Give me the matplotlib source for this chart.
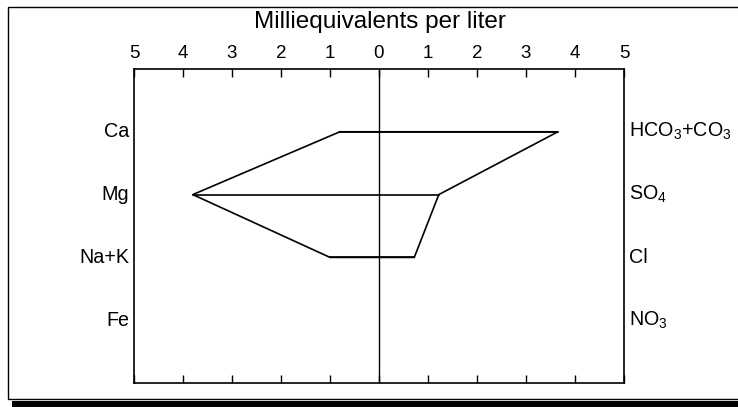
import numpy as np
import matplotlib
matplotlib.use("Agg")
import matplotlib.pyplot as plt
from matplotlib.patches import Rectangle

plt.rcParams['font.family'] = ['Liberation Sans', 'DejaVu Sans']
plt.rcParams['mathtext.default'] = 'regular'

# Data (meq/L)
cation_labels = ['Ca', 'Mg', 'Na+K', 'Fe']
anion_labels = [r'HCO$_3$+CO$_3$', r'SO$_4$', 'Cl', r'NO$_3$']
cation_values = [0.80, 3.80, 1.00, np.nan]
anion_values = [3.65, 1.22, 0.72, np.nan]
tick_values = [-5, -4, -3, -2, -1, 0, 1, 2, 3, 4, 5]
tick_labels = ['5', '4', '3', '2', '1', '0', '1', '2', '3', '4', '5']
title = 'Milliequivalents per liter'

W, H = 738, 407
fig = plt.figure(figsize=(W / 100, H / 100), dpi=100)
fig.patch.set_facecolor('white')

ax_l, ax_r, ax_t, ax_b = 134, 624, 69, 383
ax = fig.add_axes([ax_l / W, 1 - ax_b / H, (ax_r - ax_l) / W, (ax_b - ax_t) / H])

rows = np.arange(1, len(cation_labels) + 1)
ax.set_xlim(-5, 5)
ax.set_ylim(5, 0)

# Stiff polygon using rows with data
cv = np.array(cation_values, dtype=float)
av = np.array(anion_values, dtype=float)
valid = ~(np.isnan(cv) | np.isnan(av))
vr = rows[valid]
px = np.concatenate([-cv[valid], av[valid][::-1], [-cv[valid][0]]])
py = np.concatenate([vr, vr[::-1], [vr[0]]])
ax.plot(px, py, color='black', lw=1.2, solid_joinstyle='miter')
for r, c, a in zip(vr, cv[valid], av[valid]):
    ax.plot([-c, a], [r, r], color='black', lw=1.2)

# zero line
ax.axvline(0, color='black', lw=1.0)

for s in ax.spines.values():
    s.set_linewidth(1.2)
    s.set_color('black')

ax.set_xticks(tick_values)
ax.set_xticklabels(tick_labels)
ax.tick_params(axis='x', which='both', direction='in', top=True, bottom=True,
               labeltop=True, labelbottom=False, length=6, width=1.0,
               labelsize=13.5, pad=5)
ax.set_yticks([])

for r, lab in zip(rows, cation_labels):
    ax.text(-5.1, r, lab, ha='right', va='center', fontsize=14.2)
for r, lab in zip(rows, anion_labels):
    ax.text(5.1, r, lab, ha='left', va='center', fontsize=14.2)

fig.text(380 / W, 1 - 22 / H, title, ha='center', va='center', fontsize=17.5)

# outer frame and thick bottom bar
fig.add_artist(Rectangle((8 / W, 1 - 399 / H), (W + 10 - 8) / W, (399 - 7) / H,
                         transform=fig.transFigure, fill=False, ec='black', lw=1.0))
fig.add_artist(Rectangle((12 / W, 0), 1, 6 / H, transform=fig.transFigure,
                         fc='black', ec='none'))

fig.savefig('out.png', dpi=100)
